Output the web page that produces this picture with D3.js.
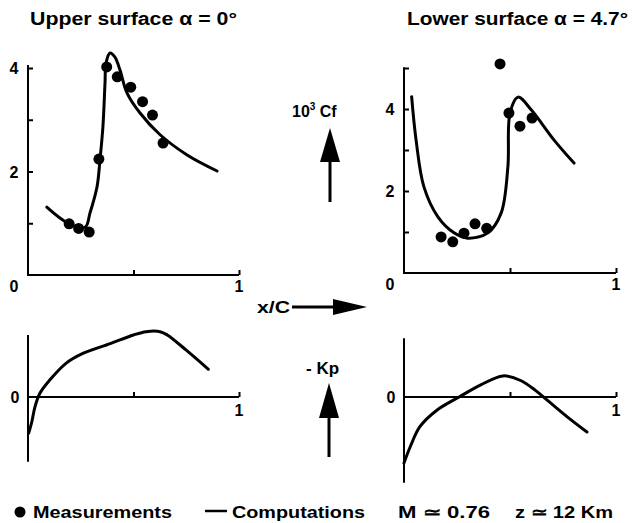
<!DOCTYPE html>
<html>
<head>
<meta charset="utf-8">
<script src="https://cdn.jsdelivr.net/npm/d3@7"></script>
<style>
  html, body { margin: 0; padding: 0; background: #fff; }
  text { font-family: 'Liberation Sans', Arial, sans-serif; font-weight: bold; fill: #000; }
</style>
</head>
<body>
<script>
// Skin friction (10^3 Cf) and pressure (-Kp) along the chord, x/C
const upperCfComp = [[0.089,1.31],[0.19,1.00],[0.27,0.92],[0.294,1.20],[0.327,1.70],[0.341,2.22],[0.355,2.86],[0.365,3.71],[0.370,4.10],[0.389,4.29],[0.412,4.21],[0.436,3.96],[0.469,3.52],[0.531,3.13],[0.626,2.71],[0.754,2.32],[0.896,2.01]]
const upperCfMeas = [[0.195,0.99],[0.24,0.90],[0.29,0.83],[0.336,2.24],[0.373,4.02],[0.423,3.83],[0.487,3.63],[0.543,3.35],[0.59,3.09],[0.64,2.55]]
const lowerCfComp = [[0.036,4.30],[0.057,3.24],[0.094,2.10],[0.16,1.37],[0.236,0.98],[0.30,0.85],[0.396,0.98],[0.458,1.46],[0.49,2.59],[0.50,3.90],[0.538,4.29],[0.60,3.98],[0.708,3.24],[0.802,2.68]]
const lowerCfMeas = [[0.175,0.88],[0.23,0.76],[0.283,0.97],[0.335,1.2],[0.39,1.09],[0.453,5.1],[0.495,3.9],[0.547,3.58],[0.604,3.78]]
const upperKp = [[0.003,-0.55],[0.017,-0.39],[0.033,-0.15],[0.057,0.06],[0.104,0.26],[0.18,0.51],[0.26,0.66],[0.39,0.81],[0.50,0.94],[0.56,0.99],[0.626,0.99],[0.66,0.94],[0.75,0.71],[0.855,0.42]]
const lowerKp = [[0.0,-1.0],[0.03,-0.75],[0.075,-0.45],[0.155,-0.2],[0.26,0.0],[0.36,0.18],[0.467,0.32],[0.55,0.25],[0.62,0.10],[0.68,-0.06],[0.77,-0.3],[0.863,-0.53]]

const upperCfTicks = [1, 2, 3, 4]
const lowerCfTicks = [1, 2, 3, 4, 5]
const cfLabels = [0, 2, 4]
const xTicks = [0.5, 1]
const titles = ['Upper surface  α = 0°', 'Lower surface  α = 4.7°']

const svg = d3.select('body').append('svg')
  .attr('width', 632).attr('height', 523)
svg.append('rect').attr('width', 632).attr('height', 523).attr('fill', '#fff')

// panel layouts (pixels)
const panels = [
  { x0: 28, x1: 239, cf0: 275, cfTopVal: 4, cfTopPx: 68, cfAxisTop: 4.06, cfTicks: upperCfTicks,
    comp: upperCfComp, meas: upperCfMeas, kp: upperKp, kpTop: 0.94, kpBot: -0.98, title: titles[0], tx: 30, tw: 207 },
  { x0: 404, x1: 616, cf0: 273, cfTopVal: 5, cfTopPx: 68, cfAxisTop: 5.02, cfTicks: lowerCfTicks,
    comp: lowerCfComp, meas: lowerCfMeas, kp: lowerKp, kpTop: 0.89, kpBot: -1.30, title: titles[1], tx: 407, tw: 221 }
]

const kpZero = 397, kpUnit = 66
const curve = d3.curveCatmullRom.alpha(0.5)

panels.forEach(p => {
  const x = d3.scaleLinear().domain([0, 1]).range([p.x0, p.x1])
  const y = d3.scaleLinear().domain([0, p.cfTopVal]).range([p.cf0, p.cfTopPx])
  const yk = d3.scaleLinear().domain([0, 1]).range([kpZero, kpZero - kpUnit])

  svg.append('text').attr('x', p.tx).attr('y', 25)
    .style('font-size', '18px')
    .attr('textLength', p.tw).attr('lengthAdjust', 'spacingAndGlyphs')
    .text(p.title)

  // Cf axes
  const g = svg.append('g')
  g.append('line').attr('x1', x(0)).attr('x2', x(0)).attr('y1', y(0)).attr('y2', y(p.cfAxisTop))
    .attr('stroke', '#000').attr('stroke-width', 2)
  g.append('line').attr('x1', x(0) - 1).attr('x2', x(1)).attr('y1', y(0)).attr('y2', y(0))
    .attr('stroke', '#000').attr('stroke-width', 2)
  g.append('g').attr('transform', `translate(${x(0)},0)`)
    .call(d3.axisRight(y).tickValues(p.cfTicks).tickSize(5).tickFormat(''))
    .call(a => a.select('.domain').remove())
  g.append('g').attr('transform', `translate(0,${y(0)})`)
    .call(d3.axisTop(x).tickValues(xTicks).tickSize(5).tickFormat(''))
    .call(a => a.select('.domain').remove())
  g.selectAll('.tick line').attr('stroke', '#000').attr('stroke-width', 2)

  cfLabels.forEach(v => {
    g.append('text').attr('x', x(0) - 14).attr('y', v === 0 ? y(0) + 17 : y(v) + 6)
      .attr('text-anchor', 'middle').style('font-size', '16px').text(v)
  })
  g.append('text').attr('x', x(1)).attr('y', y(0) + 17)
    .attr('text-anchor', 'middle').style('font-size', '16px').text(1)

  g.append('path').datum(p.comp)
    .attr('d', d3.line().x(d => x(d[0])).y(d => y(d[1])).curve(curve))
    .attr('fill', 'none').attr('stroke', '#000').attr('stroke-width', 3)
    .attr('stroke-linejoin', 'round').attr('stroke-linecap', 'round')
  g.selectAll('circle.m').data(p.meas).join('circle')
    .attr('cx', d => x(d[0])).attr('cy', d => y(d[1])).attr('r', 5.5).attr('fill', '#000')

  // Kp axes
  const k = svg.append('g')
  k.append('line').attr('x1', x(0)).attr('x2', x(0)).attr('y1', yk(p.kpTop)).attr('y2', yk(p.kpBot))
    .attr('stroke', '#000').attr('stroke-width', 2)
  k.append('line').attr('x1', x(0)).attr('x2', x(1)).attr('y1', yk(0)).attr('y2', yk(0))
    .attr('stroke', '#000').attr('stroke-width', 2)
  k.append('g').attr('transform', `translate(0,${yk(0)})`)
    .call(d3.axisTop(x).tickValues(xTicks).tickSize(5).tickFormat(''))
    .call(a => a.select('.domain').remove())
  k.selectAll('.tick line').attr('stroke', '#000').attr('stroke-width', 2)
  k.append('text').attr('x', x(0) - 13).attr('y', yk(0) + 6)
    .attr('text-anchor', 'middle').style('font-size', '16px').text(0)
  k.append('text').attr('x', x(1)).attr('y', yk(0) + 19)
    .attr('text-anchor', 'middle').style('font-size', '16px').text(1)
  k.append('path').datum(p.kp)
    .attr('d', d3.line().x(d => x(d[0])).y(d => yk(d[1])).curve(curve))
    .attr('fill', 'none').attr('stroke', '#000').attr('stroke-width', 3)
    .attr('stroke-linejoin', 'round').attr('stroke-linecap', 'round')
})

// centre labels and arrows
const lbl = svg.append('g')
const cf = lbl.append('text').attr('x', 292).attr('y', 117).style('font-size', '16px')
cf.append('tspan').text('10')
cf.append('tspan').attr('dy', -7).style('font-size', '10px').text('3')
cf.append('tspan').attr('dy', 7).text(' Cf')
lbl.append('line').attr('x1', 330).attr('x2', 330).attr('y1', 202).attr('y2', 150)
  .attr('stroke', '#000').attr('stroke-width', 3)
lbl.append('path').attr('d', 'M330,128 L320,162 L340,162 Z').attr('fill', '#000')

lbl.append('text').attr('x', 257).attr('y', 313).style('font-size', '17px')
  .attr('textLength', 33).attr('lengthAdjust', 'spacingAndGlyphs').text('x/C')
lbl.append('line').attr('x1', 292).attr('x2', 340).attr('y1', 307).attr('y2', 307)
  .attr('stroke', '#000').attr('stroke-width', 3)
lbl.append('path').attr('d', 'M367,307 L333,299 L333,315 Z').attr('fill', '#000')

lbl.append('text').attr('x', 306).attr('y', 374).style('font-size', '17px').text('- Kp')
lbl.append('line').attr('x1', 329).attr('x2', 329).attr('y1', 457).attr('y2', 405)
  .attr('stroke', '#000').attr('stroke-width', 3)
lbl.append('path').attr('d', 'M329,383 L319,418 L339,418 Z').attr('fill', '#000')

// legend
const leg = svg.append('g')
leg.append('circle').attr('cx', 20).attr('cy', 512).attr('r', 5.5).attr('fill', '#000')
leg.append('text').attr('x', 33).attr('y', 518).style('font-size', '17px')
  .attr('textLength', 139).attr('lengthAdjust', 'spacingAndGlyphs').text('Measurements')
leg.append('line').attr('x1', 205).attr('x2', 227).attr('y1', 511).attr('y2', 511)
  .attr('stroke', '#000').attr('stroke-width', 2.5)
leg.append('text').attr('x', 232).attr('y', 518).style('font-size', '17px')
  .attr('textLength', 133).attr('lengthAdjust', 'spacingAndGlyphs').text('Computations')
leg.append('text').attr('x', 398).attr('y', 518).style('font-size', '17px')
  .attr('textLength', 92).attr('lengthAdjust', 'spacingAndGlyphs').text('M ≃ 0.76')
leg.append('text').attr('x', 515).attr('y', 518).style('font-size', '17px')
  .attr('textLength', 98).attr('lengthAdjust', 'spacingAndGlyphs').text('z ≃ 12 Km')
</script>
</body>
</html>
